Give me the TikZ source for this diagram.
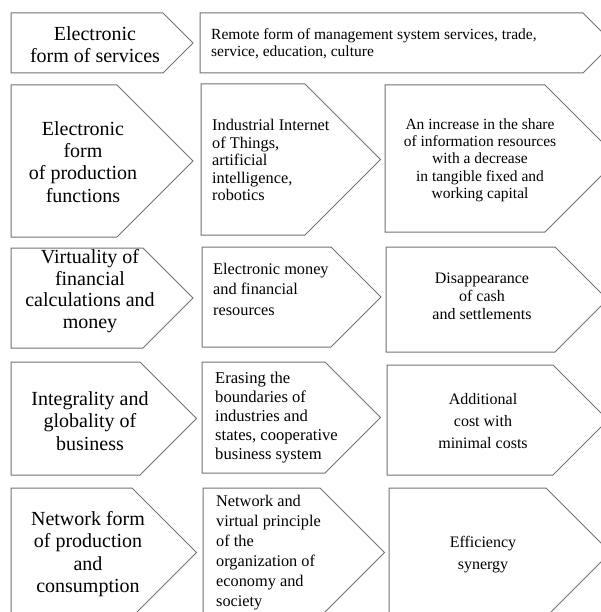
\documentclass[tikz,border=0pt]{standalone}
\usepackage{fontspec}
\setmainfont{Liberation Serif}
\begin{document}
\begin{tikzpicture}[x=1pt,y=-1pt,
  boxline/.style={draw={rgb,255:red,115;green,115;blue,115},line width=1pt,line join=miter},
  bigtxt/.style={inner sep=0pt,align=center,font=\fontsize{20}{22.3}\selectfont},
  midtxt/.style={inner sep=0pt,align=center,font=\fontsize{15.5}{17.3}\selectfont},
  lefttxt/.style={inner sep=0pt,align=left,anchor=west,font=\fontsize{15.5}{17.3}\selectfont}]
\useasboundingbox (0,0) rectangle (601,612);
\fill[white] (0,0) rectangle (601,612);
\clip (0,0) rectangle (601,612);
\newcommand{\pentbox}[4]{%
  \pgfmathsetmacro{\pmid}{(#2+#3)/2}%
  \pgfmathsetmacro{\ptip}{#4+(#3-#2)/2}%
  \draw[boxline] (#1,#2) -- (#4,#2) -- (\ptip,\pmid) -- (#4,#3) -- (#1,#3) -- cycle;}
% row 1
\pentbox{11}{13}{73}{163}
\pentbox{200}{13}{73}{583}
% row 2
\pentbox{11}{85}{237}{117}
\pentbox{201}{84}{235}{305}
\pentbox{385}{85}{232}{545}
% row 3
\pentbox{11}{248}{348}{143}
\pentbox{202}{247}{347}{331}
\pentbox{386}{247}{352}{555}
% row 4
\pentbox{11}{362}{475}{140}
\pentbox{202}{362}{473}{325}
\pentbox{387}{365}{475}{553}
% row 5
\pentbox{11}{488}{617}{132}
\pentbox{203}{488}{617}{320}
\pentbox{389}{488}{617}{546}
% texts
\node[bigtxt] (a1) at (95,45) {Electronic\\form of services};
\node[lefttxt] (b1) at (211,44) {Remote form of management system services, trade,\\service, education, culture};
\node[bigtxt] (a2) at (83,162) {Electronic\\form\\of production\\functions};
\node[lefttxt,font=\fontsize{16.3}{17.5}\selectfont] (b2) at (212,160) {Industrial Internet\\of Things,\\artificial\\intelligence,\\robotics};
\node[midtxt] (c2) at (480,160) {An increase in the share\\of information resources\\with a decrease\\in tangible fixed and\\working capital};
\node[bigtxt,font=\fontsize{20}{21.6}\selectfont] (a3) at (90,291) {Virtuality of\\financial\\calculations and\\money};
\node[lefttxt,font=\fontsize{16.3}{20.5}\selectfont] (b3) at (213,289) {Electronic money\\and financial\\resources};
\node[midtxt,font=\fontsize{16}{18}\selectfont] (c3) at (482,296) {Disappearance\\of cash\\and settlements};
\node[bigtxt] (a4) at (90,421) {Integrality and\\globality of\\business};
\node[lefttxt,font=\fontsize{16.6}{19}\selectfont] (b4) at (215,418) {Erasing the\\boundaries of\\industries and\\states, cooperative\\business system};
\node[midtxt,font=\fontsize{16}{22}\selectfont] (c4) at (483,421) {Additional\\cost with\\minimal costs};
\node[bigtxt] (a5) at (88,554) {Network form\\of production\\and\\consumption};
\node[lefttxt,font=\fontsize{16.3}{20}\selectfont] (b5) at (216,553) {Network and\\virtual principle\\of the\\organization of\\economy and\\society};
\node[midtxt,font=\fontsize{16}{22}\selectfont] (c5) at (483,555) {Efficiency\\synergy};
\end{tikzpicture}
\end{document}
